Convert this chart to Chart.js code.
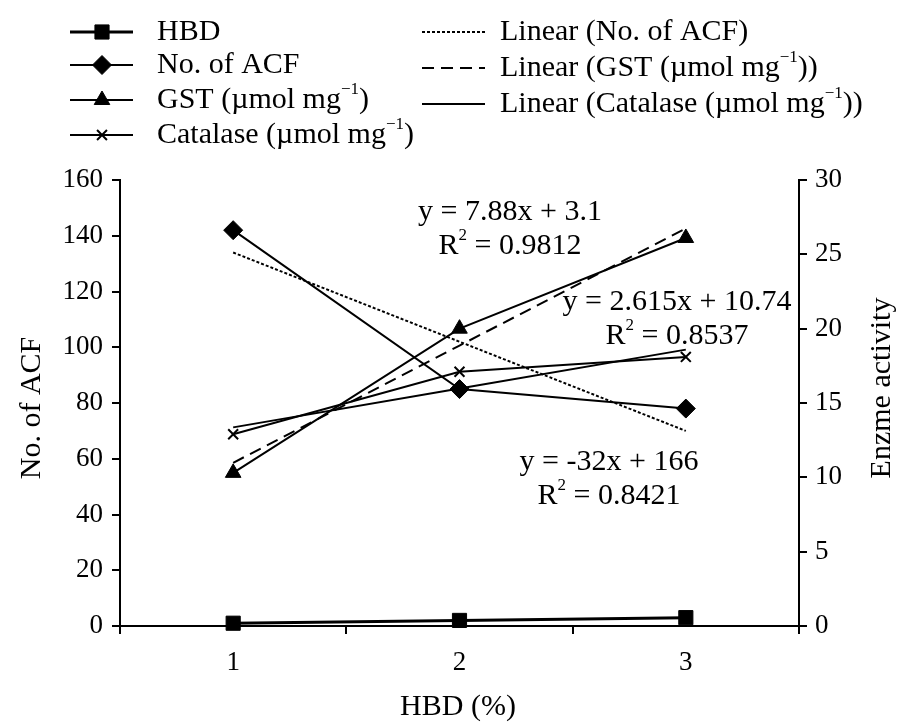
<!DOCTYPE html>
<html>
<head>
<meta charset="utf-8">
<style>
  html, body { margin: 0; padding: 0; background: #fff; }
</style>
<script src="https://cdn.jsdelivr.net/npm/chart.js@4/dist/chart.umd.min.js"></script>
</head>
<body>
<canvas id="acfChart" width="898" height="722"></canvas>
<script>
var categories = ['1', '2', '3'];
var hbd = [1, 2, 3];
var acfCount = [142, 85, 78];
var gst = [10.3, 20.0, 26.1];
var catalase = [12.9, 17.1, 18.1];
// trend lines
var acfTrend = [134, 102, 70];
var gstTrend = [10.98, 18.86, 26.74];
var catalaseTrend = [13.36, 15.97, 18.59];
var leftTicks = [0, 20, 40, 60, 80, 100, 120, 140, 160];
var rightTicks = [0, 5, 10, 15, 20, 25, 30];

var SERIF = '"Liberation Serif", "Times New Roman", serif';

// text with superscript pieces: parts = [[text, isSup], ...]
function richText(ctx, parts, x, y, size, align) {
  var supSize = Math.round(size * 0.55);
  var w = 0;
  parts.forEach(function(p) {
    ctx.font = (p[1] ? supSize : size) + 'px ' + SERIF;
    w += ctx.measureText(p[0]).width;
  });
  var cx = align === 'center' ? x - w / 2 : x;
  ctx.textAlign = 'left';
  ctx.textBaseline = 'middle';
  parts.forEach(function(p) {
    ctx.font = (p[1] ? supSize : size) + 'px ' + SERIF;
    ctx.fillText(p[0], cx, p[1] ? y - size * 0.36 : y);
    cx += ctx.measureText(p[0]).width;
  });
}

var legendItems = [
  { ds: 0, x: 70, tx: 157, y: 32, text: [['HBD']] },
  { ds: 1, x: 70, tx: 157, y: 65, text: [['No. of ACF']] },
  { ds: 2, x: 70, tx: 157, y: 100, text: [['GST (µmol mg'], ['−1', true], [')']] },
  { ds: 3, x: 70, tx: 157, y: 135, text: [['Catalase (µmol mg'], ['−1', true], [')']] },
  { ds: 4, x: 422, tx: 500, y: 32, text: [['Linear (No. of ACF)']] },
  { ds: 5, x: 422, tx: 500, y: 68, text: [['Linear (GST (µmol mg'], ['−1', true], ['))']] },
  { ds: 6, x: 422, tx: 500, y: 104, text: [['Linear (Catalase (µmol mg'], ['−1', true], ['))']] }
];

var equations = [
  { x: 510, y: 212, lines: [[['y = 7.88x + 3.1']], [['R'], ['2', true], [' = 0.9812']]] },
  { x: 677, y: 302, lines: [[['y = 2.615x + 10.74']], [['R'], ['2', true], [' = 0.8537']]] },
  { x: 609, y: 462, lines: [[['y = -32x + 166']], [['R'], ['2', true], [' = 0.8421']]] }
];

var extras = {
  id: 'extras',
  afterDraw: function(chart) {
    var c = chart.ctx;
    c.save();
    c.fillStyle = '#000';
    c.strokeStyle = '#000';

    // legend
    legendItems.forEach(function(it) {
      var ds = chart.data.datasets[it.ds];
      c.save();
      c.lineWidth = ds.borderWidth;
      c.setLineDash(ds.borderDash || []);
      c.beginPath();
      c.moveTo(it.x, it.y);
      c.lineTo(it.x + 63, it.y);
      c.stroke();
      c.restore();
      if (ds.pointRadius > 0) {
        c.save();
        c.fillStyle = '#000';
        c.strokeStyle = '#000';
        c.lineWidth = ds.pointBorderWidth || 1;
        Chart.helpers.drawPoint(c, {
          pointStyle: ds.pointStyle, radius: ds.pointRadius,
          rotation: 0, borderWidth: ds.pointBorderWidth || 1
        }, it.x + 32, it.y);
        c.restore();
      }
      c.fillStyle = '#000';
      richText(c, it.text, it.tx, it.y, 30, 'left');
    });

    // equations
    equations.forEach(function(eq) {
      richText(c, eq.lines[0], eq.x, eq.y, 30, 'center');
      richText(c, eq.lines[1], eq.x, eq.y + 34, 30, 'center');
    });

    // axis titles
    c.font = '30px ' + SERIF;
    c.textAlign = 'center';
    c.textBaseline = 'middle';
    c.fillText('HBD (%)', 458, 707);
    c.save();
    c.translate(32, 408);
    c.rotate(-Math.PI / 2);
    c.fillText('No. of ACF', 0, 0);
    c.restore();
    c.save();
    c.translate(882, 388);
    c.rotate(-Math.PI / 2);
    c.fillText('Enzme activity', 0, 0);
    c.restore();
    c.restore();
  }
};

new Chart(document.getElementById('acfChart'), {
  type: 'line',
  data: {
    labels: categories,
    datasets: [
      { label: 'HBD', data: hbd, yAxisID: 'y', borderColor: '#000', backgroundColor: '#000',
        borderWidth: 3, pointStyle: 'rect', pointRadius: 10, pointBorderWidth: 1 },
      { label: 'No. of ACF', data: acfCount, yAxisID: 'y', borderColor: '#000', backgroundColor: '#000',
        borderWidth: 2, pointStyle: 'rectRot', pointRadius: 9.5, pointBorderWidth: 1 },
      { label: 'GST (µmol mg⁻¹)', data: gst, yAxisID: 'y1', borderColor: '#000', backgroundColor: '#000',
        borderWidth: 2, pointStyle: 'triangle', pointRadius: 9, pointBorderWidth: 1 },
      { label: 'Catalase (µmol mg⁻¹)', data: catalase, yAxisID: 'y1', borderColor: '#000', backgroundColor: '#000',
        borderWidth: 2, pointStyle: 'crossRot', pointRadius: 7, pointBorderWidth: 2 },
      { label: 'Linear (No. of ACF)', data: acfTrend, yAxisID: 'y', borderColor: '#000',
        borderWidth: 2, borderDash: [3, 2], pointRadius: 0 },
      { label: 'Linear (GST (µmol mg⁻¹))', data: gstTrend, yAxisID: 'y1', borderColor: '#000',
        borderWidth: 2, borderDash: [12, 7], pointRadius: 0 },
      { label: 'Linear (Catalase (µmol mg⁻¹))', data: catalaseTrend, yAxisID: 'y1', borderColor: '#000',
        borderWidth: 2, pointRadius: 0 }
    ]
  },
  options: {
    responsive: false,
    devicePixelRatio: 1,
    animation: false,
    layout: { padding: { top: 180, left: 0, right: 0, bottom: 0 } },
    elements: { line: { tension: 0, fill: false }, point: { hoverRadius: 9 } },
    datasets: { line: { clip: false } },
    plugins: { legend: { display: false }, tooltip: { enabled: false } },
    scales: {
      x: {
        offset: true,
        grid: { offset: true, drawOnChartArea: false, drawTicks: true, tickLength: 8, color: '#000', lineWidth: 2 },
        border: { display: true, color: '#000', width: 2 },
        ticks: { color: '#000', padding: 13, font: { family: SERIF, size: 27 } },
        afterFit: function(s) { s.height = 96; }
      },
      y: {
        position: 'left',
        min: leftTicks[0], max: leftTicks[leftTicks.length - 1],
        ticks: { stepSize: leftTicks[1] - leftTicks[0], color: '#000', padding: 9, font: { family: SERIF, size: 27 } },
        grid: { drawOnChartArea: false, drawTicks: true, tickLength: 8, color: '#000', lineWidth: 2 },
        border: { display: true, color: '#000', width: 2 },
        afterFit: function(s) { s.width = 120; }
      },
      y1: {
        position: 'right',
        min: rightTicks[0], max: rightTicks[rightTicks.length - 1],
        ticks: { stepSize: rightTicks[1] - rightTicks[0], color: '#000', padding: 8, font: { family: SERIF, size: 27 } },
        grid: { drawOnChartArea: false, drawTicks: true, tickLength: 8, color: '#000', lineWidth: 2 },
        border: { display: true, color: '#000', width: 2 },
        afterFit: function(s) { s.width = 99; }
      }
    }
  },
  plugins: [extras]
});
</script>
</body>
</html>
